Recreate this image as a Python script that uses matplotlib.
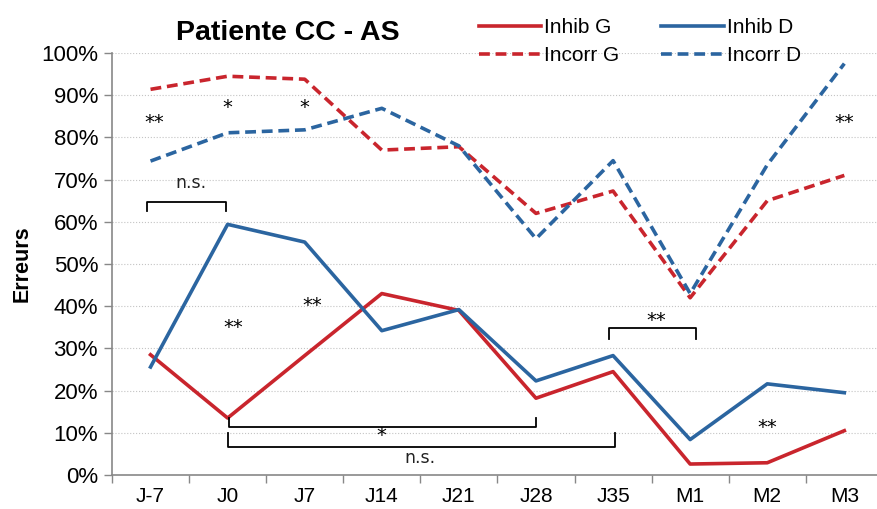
import numpy as np
import matplotlib.pyplot as plt

plt.rcParams['font.family'] = ['Liberation Sans', 'DejaVu Sans']

# --- Data ---
categories = ["J-7", "J0", "J7", "J14", "J21", "J28", "J35", "M1", "M2", "M3"]
inhib_g = [28.5, 13.5, 28.3, 43.0, 39.0, 18.2, 24.5, 2.6, 2.9, 10.5]
inhib_d = [25.6, 59.4, 55.2, 34.2, 39.2, 22.3, 28.3, 8.4, 21.6, 19.5]
incorr_g = [91.4, 94.5, 93.8, 77.0, 77.8, 62.0, 67.3, 42.0, 65.0, 71.0]
incorr_d = [74.4, 81.1, 81.8, 86.9, 78.0, 56.0, 74.5, 43.0, 73.5, 97.5]

# significance marks: (x position in category units, y in %, text)
stars = [(0.05, 83.5, "**"), (1.0, 87.0, "*"), (2.0, 87.0, "*"), (9.0, 83.5, "**"),
         (1.07, 35.0, "**"), (2.1, 40.2, "**"), (6.56, 36.6, "**"), (8.0, 11.2, "**"),
         (3.0, 9.3, "*")]
# brackets: (x start, x end, y of bar, y of ends)
top_brackets = [(-0.05, 0.98, 64.8, 62.5), (5.95, 7.08, 34.8, 32.2)]
bottom_brackets = [(1.02, 5.0, 11.4, 13.4), (1.0, 6.03, 6.7, 10.0)]
ns_labels = [(0.52, 69.1), (3.5, 4.0)]

red = "#C9252D"
blue = "#2B65A0"

fig = plt.figure(figsize=(8.77, 5.09), dpi=100)
ax = fig.add_axes([0.1277, 0.0668, 0.879, 0.829])
x = np.arange(len(categories))

dash = (0, (3.0, 1.6))
l1, = ax.plot(x, inhib_g, color=red, lw=2.6, label="Inhib G")
l2, = ax.plot(x, inhib_d, color=blue, lw=2.6, label="Inhib D")
l3, = ax.plot(x, incorr_g, color=red, lw=2.6, ls=dash, label="Incorr G")
l4, = ax.plot(x, incorr_d, color=blue, lw=2.6, ls=dash, label="Incorr D")

for sx, sy, s in stars:
    ax.text(sx, sy, s, ha="center", va="center", fontsize=14, family="DejaVu Sans")

for x0, x1, yb, ye in top_brackets + bottom_brackets:
    ax.plot([x0, x0, x1, x1], [ye, yb, yb, ye], color="black", lw=1.3)

for nx, ny in ns_labels:
    ax.text(nx, ny, "n.s.", ha="center", va="center", fontsize=12.5, family="DejaVu Sans",
            color="#222222")

ax.set_xlim(-0.5, len(categories) - 0.5)
ax.set_ylim(0, 100)
ax.set_yticks(np.arange(0, 101, 10))
ax.set_yticklabels([f"{v}%" for v in range(0, 101, 10)], fontsize=16)
ax.set_xticks(x)
ax.set_xticklabels(categories, fontsize=15)
ax.set_xticks(np.arange(-0.5, len(categories), 1), minor=True)
ax.tick_params(axis="x", which="major", length=0, pad=9)
ax.tick_params(axis="x", which="minor", length=6, color="#888888", width=1)
ax.tick_params(axis="y", length=6, color="#888888", width=1, pad=4)

ax.grid(axis="y", color="#C4C4C4", ls=":", lw=0.8)
ax.set_axisbelow(True)
for side in ["top", "right"]:
    ax.spines[side].set_visible(False)
for side in ["left", "bottom"]:
    ax.spines[side].set_color("#888888")
    ax.spines[side].set_linewidth(1.2)

ax.set_ylabel("Erreurs", fontsize=15.5, fontweight="bold", labelpad=6)
fig.text(0.328, 0.935, "Patiente CC - AS", ha="center", va="center",
         fontsize=20.5, fontweight="bold")

fig.legend([l1, l3, l2, l4], ["Inhib G", "Incorr G", "Inhib D", "Incorr D"],
           ncol=2, loc="upper left", bbox_to_anchor=(0.546, 0.965), frameon=False,
           fontsize=15, handlelength=3.0, handletextpad=0.15, columnspacing=2.0,
           labelspacing=0.45, borderaxespad=0, borderpad=0)

fig.savefig("out.png", dpi=100)
